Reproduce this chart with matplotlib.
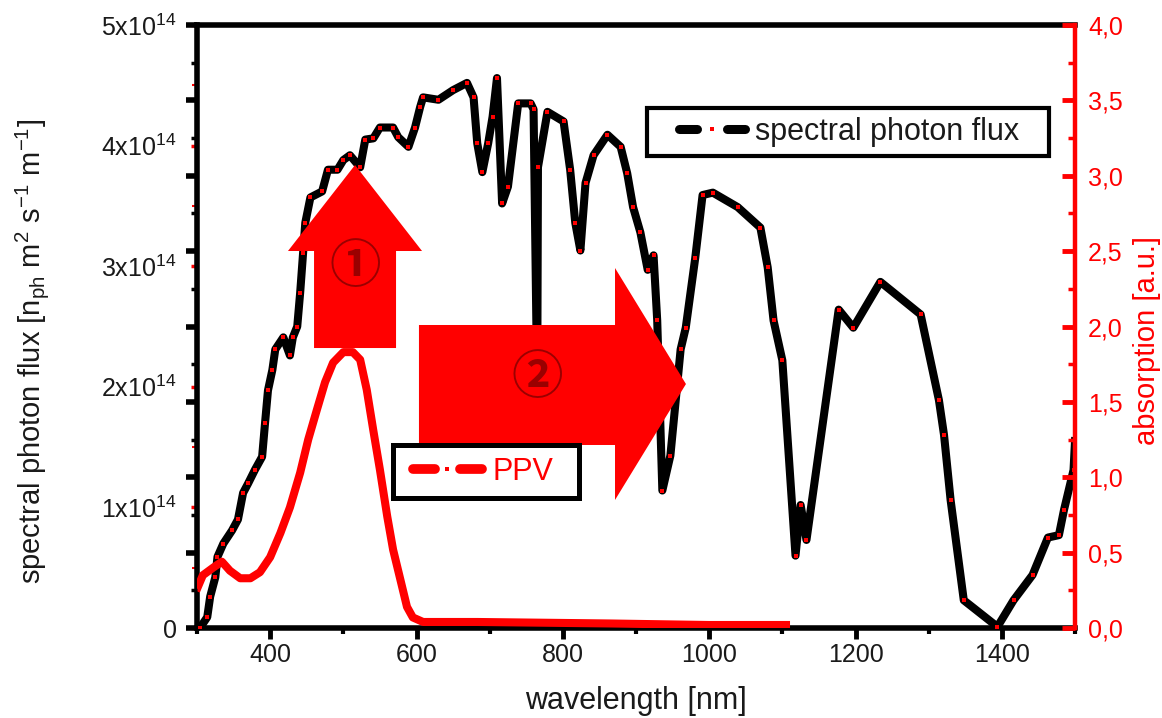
import numpy as np
import matplotlib
matplotlib.use('Agg')
import matplotlib.pyplot as plt
from matplotlib.patches import Polygon, Rectangle
from matplotlib.lines import Line2D
from matplotlib.legend_handler import HandlerBase
import matplotlib.ticker as mticker

# ---------------- data ----------------
wl_flux = [304, 314, 318, 325, 328, 336, 348, 356, 363, 370, 379, 389, 393, 397, 403, 407, 418,
           427, 431, 437, 441, 445, 448, 455, 471, 479, 492, 500, 509, 523, 530, 541, 550, 568,
           575, 589, 598, 605, 609, 630, 650, 669, 678, 683, 690, 698, 704, 710, 717, 725, 739,
           756, 760, 765, 766, 779, 801, 810, 817, 824, 831, 842, 861, 879, 888, 896, 906, 916,
           924, 929, 936, 947, 961, 968, 981, 991, 1005, 1039, 1070, 1080, 1088, 1100, 1118,
           1125, 1133, 1177, 1197, 1234, 1289, 1314, 1321, 1330, 1348, 1394, 1416, 1442, 1463,
           1478, 1485, 1498, 1500]
flux_e14 = [0.0, 0.09, 0.26, 0.42, 0.59, 0.70, 0.81, 0.90, 1.12, 1.20, 1.31, 1.42, 1.70, 1.97,
            2.14, 2.31, 2.41, 2.26, 2.41, 2.50, 2.78, 3.11, 3.36, 3.57, 3.62, 3.80, 3.80, 3.88,
            3.92, 3.82, 4.05, 4.06, 4.15, 4.15, 4.07, 3.99, 4.15, 4.32, 4.40, 4.38, 4.46, 4.52,
            4.40, 4.02, 3.78, 4.02, 4.24, 4.56, 3.52, 3.66, 4.35, 4.35, 4.30, 1.97, 3.82, 4.28,
            4.20, 3.80, 3.36, 3.13, 3.69, 3.92, 4.09, 3.99, 3.77, 3.49, 3.28, 2.97, 3.09, 2.55,
            1.14, 1.43, 2.31, 2.49, 3.07, 3.59, 3.61, 3.49, 3.32, 2.99, 2.55, 2.22, 0.60, 1.02,
            0.73, 2.64, 2.49, 2.87, 2.60, 1.89, 1.60, 1.06, 0.23, 0.01, 0.23, 0.44, 0.75, 0.77,
            0.98, 1.31, 1.55]

wl_ppv = [301, 308, 322, 334, 345, 359, 373, 386, 400, 414, 427, 441, 452, 464, 475, 486, 500,
          513, 523, 532, 541, 550, 560, 568, 578, 587, 595, 609, 683, 865, 1000, 1105]
abs_ppv = [0.27, 0.35, 0.40, 0.44, 0.38, 0.33, 0.33, 0.37, 0.47, 0.63, 0.80, 1.03, 1.25, 1.45,
           1.63, 1.76, 1.83, 1.83, 1.78, 1.58, 1.31, 1.05, 0.74, 0.52, 0.32, 0.14, 0.07, 0.04,
           0.04, 0.03, 0.02, 0.02]

x_major = [400, 600, 800, 1000, 1200, 1400]
x_minor = [300, 500, 700, 900, 1100, 1300, 1500]
left_ticks = [0, 1e14, 2e14, 3e14, 4e14, 5e14]
left_labels = ['0'] + [r'%dx10$^{\mathregular{14}}$' % i for i in range(1, 6)]
right_ticks = [0.0, 0.5, 1.0, 1.5, 2.0, 2.5, 3.0, 3.5, 4.0]

x_label = 'wavelength [nm]'
y_label = (r'spectral photon flux [n$_{\mathregular{ph}}$ m$^{\mathregular{2}}$ '
           r's$^{\mathregular{-1}}$ m$^{\mathregular{-1}}$]')
y2_label = 'absorption [a.u.]'
series_names = ['spectral photon flux', 'PPV']

# ---------------- style ----------------
plt.rcParams['font.family'] = ['Liberation Sans', 'DejaVu Sans']
RED = '#ff0000'
TXT = '#1a1a1a'

fig = plt.figure(figsize=(11.62, 7.18), dpi=100)
pos = [197 / 1162, 1 - 628 / 718, 878 / 1162, 603 / 718]
ax = fig.add_axes(pos)
ax.set_xlim(300, 1500)
ax.set_ylim(0, 5e14)
ax2 = ax.twinx()
ax2.set_ylim(0, 4)

# main curves
line_flux, = ax.plot(wl_flux, np.array(flux_e14) * 1e14, color='black', lw=5.8,
                     marker='s', ms=2.6, mfc=RED, mec=RED, mew=0, zorder=3)
line_ppv, = ax2.plot(wl_ppv, abs_ppv, color=RED, lw=5.8, zorder=3)

# spines
for s in ['left', 'bottom', 'top']:
    ax.spines[s].set_linewidth(4)
    ax.spines[s].set_color('black')
ax.spines['right'].set_visible(False)
for s in ['left', 'bottom', 'top']:
    ax2.spines[s].set_visible(False)
ax2.spines['right'].set_color(RED)
ax2.spines['right'].set_linewidth(3.2)

# x ticks
ax.set_xticks(x_major)
ax.set_xticks(x_minor, minor=True)
ax.tick_params(axis='x', which='major', direction='out', length=8, width=3.5,
               color='black', labelsize=18, labelcolor=TXT, pad=2.5)
ax.tick_params(axis='x', which='minor', direction='out', length=4.5, width=3.0, color='black')
ax.tick_params(axis='x', top=False)

# left y ticks (red marks, black labels)
ax.set_yticks(left_ticks)
ax.set_yticklabels(left_labels)
ax.yaxis.set_minor_locator(mticker.MultipleLocator(0.5e14))
ax.tick_params(axis='y', which='major', direction='out', length=4.5, width=2.5,
               color=RED, labelsize=18, labelcolor=TXT, pad=10)
ax.tick_params(axis='y', which='minor', direction='out', length=3.5, width=1.5, color=RED)

# right y ticks
ax2.set_yticks(right_ticks)
ax2.yaxis.set_minor_locator(mticker.MultipleLocator(0.25))
ax2.yaxis.set_major_formatter(mticker.FuncFormatter(lambda v, p: f'{v:.1f}'.replace('.', ',')))
ax2.tick_params(axis='y', which='major', direction='in', length=9.4, width=3.5,
                color=RED, labelsize=18, labelcolor=RED, pad=9.5)
ax2.tick_params(axis='y', which='minor', direction='in', length=5, width=2.5, color=RED)

# overlay axes: black tick marks on the left spine + annotations
ax3 = fig.add_axes(pos, frameon=False)
ax3.set_xlim(0, 1)
ax3.set_ylim(0, 4)
ax3.xaxis.set_visible(False)
ax3.set_yticks(right_ticks)
ax3.yaxis.set_minor_locator(mticker.MultipleLocator(0.25))
ax3.tick_params(axis='y', which='major', direction='out', length=8, width=4,
                color='black', labelleft=False, right=False)
ax3.tick_params(axis='y', which='minor', direction='out', length=4, width=2.5,
                color='black', right=False)

# labels
ax.set_xlabel(x_label, fontsize=22, color=TXT)
ax.xaxis.set_label_coords(0.5, -0.097)
ax.set_ylabel(y_label, fontsize=21, color=TXT)
ax.yaxis.set_label_coords(-0.1663, 0.458)
ax2.set_ylabel(y2_label, fontsize=21, color=RED)
ax2.yaxis.set_label_coords(1.066, 0.476)

# arrows (axes-fraction geometry)
arrow_up = [(0.1333, 0.4643), (0.2267, 0.4643), (0.2267, 0.6252), (0.2563, 0.6252),
            (0.1800, 0.7678), (0.1036, 0.6252), (0.1333, 0.6252)]
arrow_right = [(0.2528, 0.5025), (0.4761, 0.5025), (0.4761, 0.5970), (0.5569, 0.4046),
               (0.4761, 0.2123), (0.4761, 0.3035), (0.2528, 0.3035)]
for verts in (arrow_up, arrow_right):
    ax3.add_patch(Polygon(verts, closed=True, facecolor=RED, edgecolor='none',
                          transform=ax3.transAxes, zorder=5))
circ_font = ['Noto Sans CJK JP', 'DejaVu Sans']
for (cx, cy), s in zip([(0.180, 0.599), (0.388, 0.415)], ['\u2460', '\u2461']):
    ax3.text(cx, cy, s, transform=ax3.transAxes, ha='center', va='center',
             fontsize=37, color='#9a0000', family=circ_font, fontweight='bold', zorder=6)


# legends with Origin-like handles
class OriginHandler(HandlerBase):
    def __init__(self, lc, mc, lw, ms, seg_frac):
        super().__init__()
        self.lc, self.mc, self.lw, self.ms, self.seg = lc, mc, lw, ms, seg_frac

    def create_artists(self, legend, orig_handle, xdescent, ydescent, width, height,
                       fontsize, trans):
        y = height / 2 - ydescent
        x0 = -xdescent
        cap = self.lw / 2
        seg = width * self.seg
        l1 = Line2D([x0 + cap, x0 + seg - cap], [y, y], color=self.lc, lw=self.lw,
                    solid_capstyle='round')
        l2 = Line2D([x0 + width - seg + cap, x0 + width - cap], [y, y], color=self.lc,
                    lw=self.lw, solid_capstyle='round')
        m = Line2D([x0 + width / 2], [y], marker='s', ms=self.ms, mfc=self.mc, mec=self.mc,
                   mew=0, ls='none')
        for a in (l1, l2, m):
            a.set_transform(trans)
        return [l1, l2, m]


leg1 = ax3.legend([line_flux], [series_names[0]], loc='center left',
                  bbox_to_anchor=(0.5444, 0.8226), bbox_transform=ax3.transAxes,
                  frameon=False, borderpad=0, borderaxespad=0, fontsize=22,
                  handlelength=2.45, handletextpad=0.16,
                  handler_map={line_flux: OriginHandler('black', RED, 6.5, 3.5, 0.36)})
for t in leg1.get_texts():
    t.set_color(TXT)
leg1.set_zorder(8)
ax3.add_artist(leg1)
ax3.add_patch(Rectangle((0.5125, 0.7828), 0.4579, 0.0796, transform=ax3.transAxes,
                        facecolor='white', edgecolor='black', lw=3, zorder=7))

leg2 = ax3.legend([line_ppv], [series_names[1]], loc='center left',
                  bbox_to_anchor=(0.2403, 0.2595), bbox_transform=ax3.transAxes,
                  frameon=False, borderpad=0, borderaxespad=0, fontsize=22,
                  handlelength=2.58, handletextpad=0.2,
                  handler_map={line_ppv: OriginHandler(RED, RED, 7, 3.5, 0.405)})
for t in leg2.get_texts():
    t.set_color(RED)
leg2.set_zorder(8)
ax3.add_patch(Rectangle((0.2232, 0.2156), 0.2118, 0.0879, transform=ax3.transAxes,
                        facecolor='white', edgecolor='black', lw=3.6, zorder=7))

fig.savefig('out.png', dpi=100)
